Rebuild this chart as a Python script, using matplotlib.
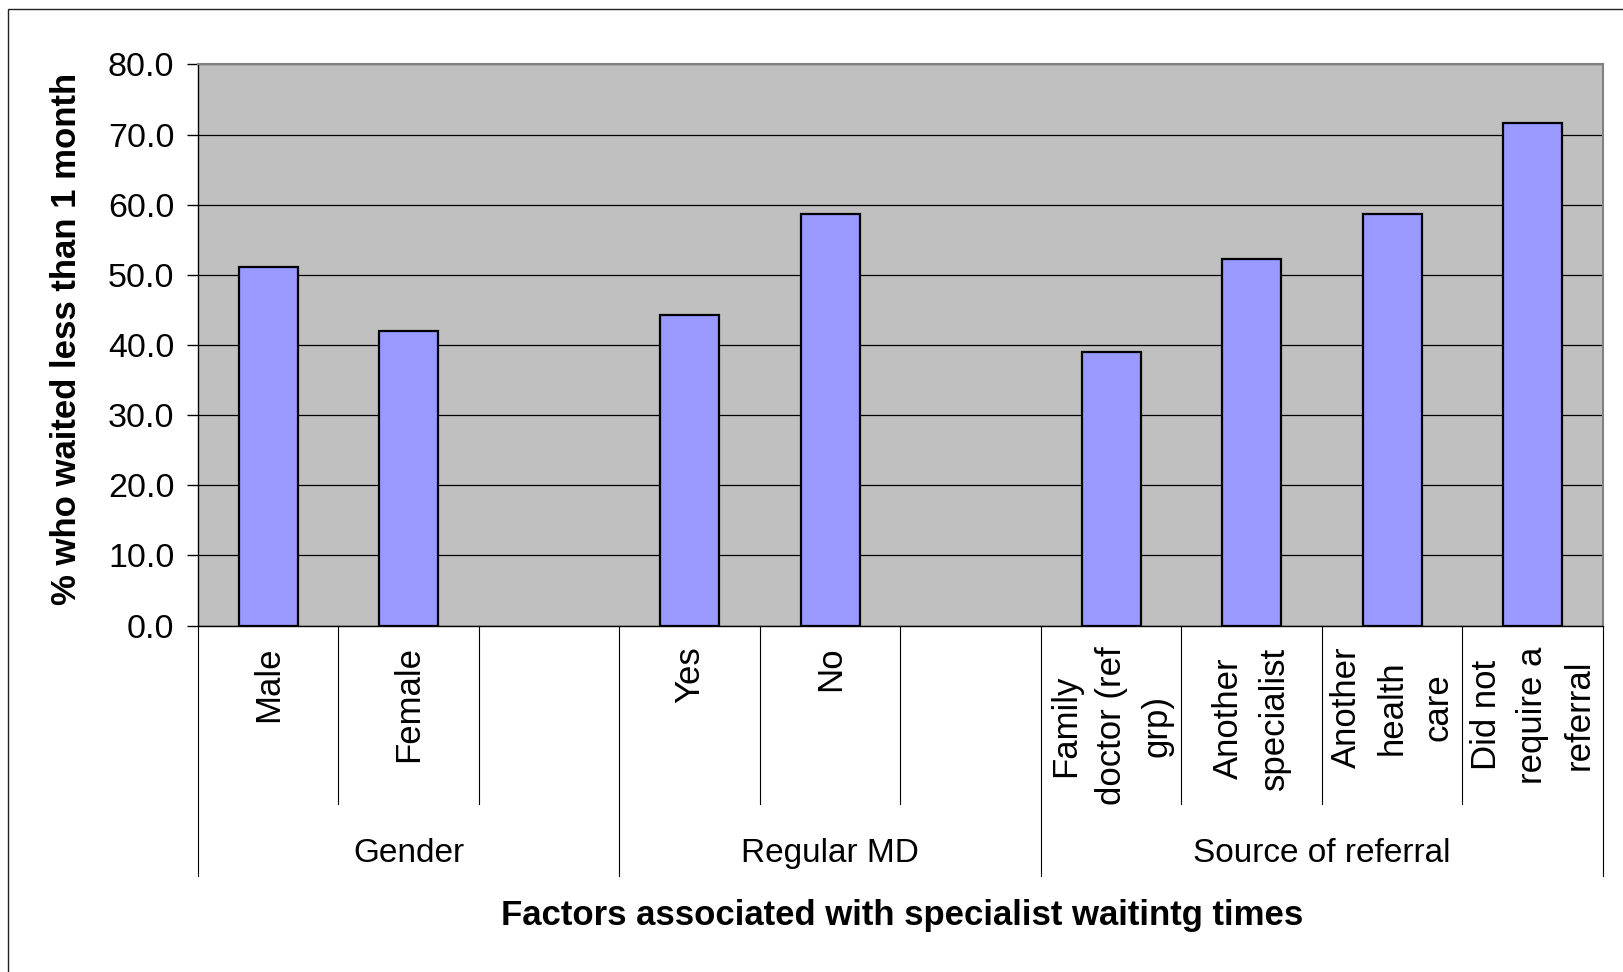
import matplotlib.pyplot as plt
from matplotlib.patches import Rectangle
import matplotlib.transforms as mtransforms
import numpy as np

plt.rcParams['font.family'] = ['Liberation Sans', 'DejaVu Sans']

# slot labels (blank slots separate the groups)
categories = ['Male', 'Female', '',
              'Yes', 'No', '',
              'Family\ndoctor (ref\ngrp)', 'Another\nspecialist',
              'Another\nhealth\ncare', 'Did not\nrequire a\nreferral']
values = [51.1, 42.0, np.nan,
          44.3, 58.7, np.nan,
          39.0, 52.2, 58.7, 71.6]
groups = ['Gender', 'Regular MD', 'Source of referral']
group_sizes = [3, 3, 4]
yticks = [0, 10, 20, 30, 40, 50, 60, 70, 80]

W, H = 1624, 972
fig = plt.figure(figsize=(W / 100, H / 100), dpi=100)
ax = fig.add_axes([198 / W, 1 - 625.6 / H, (1603 - 198) / W, (625.6 - 64.5) / H])

# outer chart border (runs off the right/bottom edge like the source)
fig.patches.append(Rectangle((8.5 / W, -0.05), 1.2, 1 - 9.5 / H + 0.05,
                             transform=fig.transFigure, fill=False,
                             edgecolor='#222222', lw=1.0))

x = np.arange(len(categories))
ax.set_facecolor('#C0C0C0')
ax.bar(x, values, width=0.42, color='#9999FF', edgecolor='black', linewidth=1.6, zorder=3)

ax.set_xlim(-0.5, len(categories) - 0.5)
ax.set_ylim(0, 80)
ax.set_yticks(yticks)
ax.set_yticklabels([f'{v:.1f}' for v in yticks], fontsize=24.5)
ax.yaxis.grid(True, color='black', lw=0.9, zorder=1)
ax.set_axisbelow(True)
ax.tick_params(axis='y', length=8, width=1, direction='out', pad=9)

ax.set_xticks(x)
ax.set_xticklabels(categories, rotation=90, fontsize=25, va='top', ha='center',
                   multialignment='center', linespacing=1.5)
ax.tick_params(axis='x', length=0, pad=15)

for s in ['top', 'right']:
    ax.spines[s].set_color('#808080')
    ax.spines[s].set_linewidth(1.5)
for s in ['left', 'bottom']:
    ax.spines[s].set_color('black')
    ax.spines[s].set_linewidth(1.0)

# separators under the axis
trans = mtransforms.blended_transform_factory(ax.transData, ax.transAxes)
inner_low = -(803.7 - 625.6) / 561.1
group_low = -(876 - 625.6) / 561.1
bounds = np.cumsum([0] + group_sizes) - 0.5
for b in np.arange(-0.5, len(categories)):
    low = group_low if b in bounds else inner_low
    ax.plot([b, b], [0, low], color='black', lw=0.8, transform=trans, clip_on=False)

for i, g in enumerate(groups):
    cx = (bounds[i] + bounds[i + 1]) / 2
    ax.text(cx, -(853.5 - 625.6) / 561.1, g, transform=trans, ha='center',
            va='center', fontsize=24)

fig.text(902 / W, 1 - 915 / H, 'Factors associated with specialist waitintg times',
         ha='center', va='center', fontsize=25, fontweight='bold')
fig.text(67 / W, 1 - 339 / H, '% who waited less than 1 month', rotation=90,
         ha='center', va='center', fontsize=25, fontweight='bold')

fig.savefig('out.png', dpi=100)
